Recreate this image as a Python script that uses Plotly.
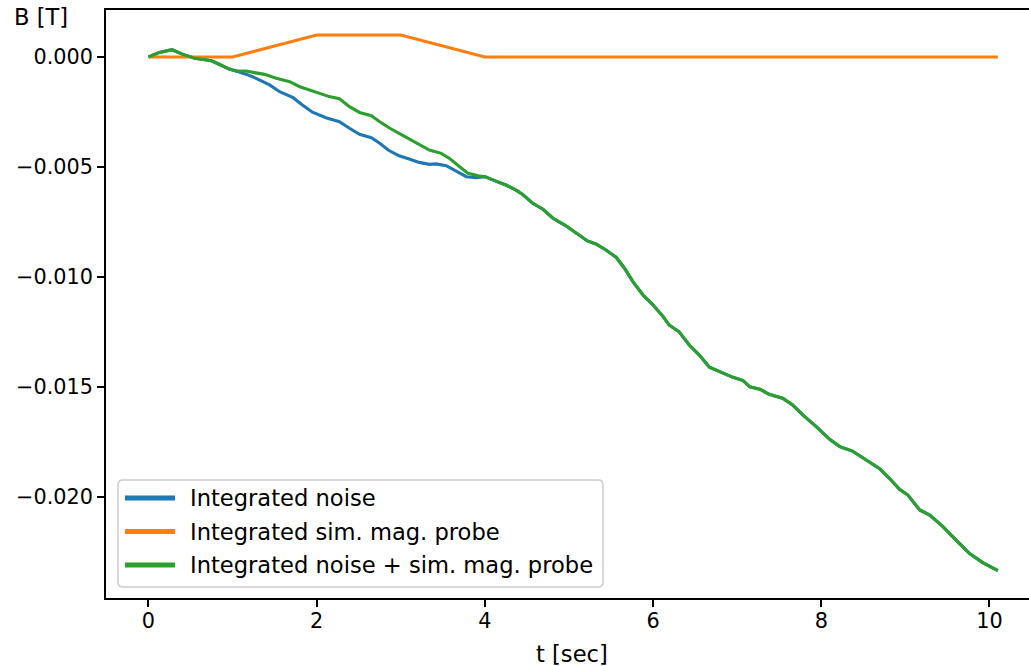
import plotly.graph_objects as go

# ---- data -------------------------------------------------------------
# simulated magnetic probe signal, integrated (piecewise linear)
t_probe = [0.0, 1.0, 2.0, 3.0, 4.0, 10.1]
b_probe = [0.0, 0.0, 0.001, 0.001, 0.0, 0.0]

# integrated noise
t_noise = [0.00, 0.13, 0.28, 0.41, 0.55, 0.69, 0.75, 0.84, 0.96, 1.04,
           1.16, 1.28, 1.44, 1.56, 1.72, 1.83, 1.95, 2.11, 2.27, 2.39,
           2.51, 2.65, 2.75, 2.85, 2.98, 3.10, 3.22, 3.34, 3.42, 3.54,
           3.66, 3.78, 3.90, 4.00, 4.13, 4.25, 4.37, 4.45, 4.57, 4.69,
           4.81, 4.95, 5.09, 5.22, 5.32, 5.44, 5.56, 5.66, 5.76, 5.88,
           6.00, 6.12, 6.19, 6.31, 6.43, 6.55, 6.67, 6.79, 6.95, 7.07,
           7.15, 7.27, 7.38, 7.54, 7.66, 7.78, 7.94, 8.10, 8.22, 8.37,
           8.53, 8.69, 8.81, 8.93, 9.03, 9.17, 9.29, 9.44, 9.60, 9.76,
           9.92, 10.00, 10.10]
b_noise = [0.0, 0.00021, 0.00033, 0.00012, -0.00006, -0.00014, -0.00017, -0.00033, -0.00055, -0.00064,
           -0.00078, -0.00097, -0.00127, -0.00158, -0.00185, -0.00218, -0.00251, -0.00276, -0.00294, -0.00324,
           -0.00351, -0.00367, -0.00392, -0.00423, -0.00449, -0.00464, -0.00479, -0.00488, -0.00486, -0.00494,
           -0.00518, -0.00544, -0.00549, -0.00544, -0.00564, -0.00582, -0.00605, -0.00625, -0.00665, -0.00692,
           -0.00733, -0.00764, -0.00801, -0.00836, -0.00850, -0.00877, -0.00910, -0.00960, -0.01021, -0.01082,
           -0.01127, -0.01180, -0.01218, -0.01249, -0.01309, -0.01355, -0.01410, -0.01430, -0.01456, -0.01471,
           -0.01499, -0.01510, -0.01533, -0.01551, -0.01582, -0.01627, -0.01680, -0.01738, -0.01771, -0.01791,
           -0.01832, -0.01870, -0.01915, -0.01965, -0.01991, -0.02059, -0.02082, -0.02132, -0.02195, -0.02256,
           -0.02298, -0.02314, -0.02335]

# integrated noise + simulated probe
t_total = [0.00, 0.13, 0.28, 0.41, 0.55, 0.69, 0.75, 0.84, 0.96, 1.04,
           1.16, 1.26, 1.38, 1.52, 1.68, 1.80, 1.91, 2.03, 2.15, 2.27,
           2.39, 2.51, 2.65, 2.75, 2.87, 2.98, 3.10, 3.22, 3.34, 3.48,
           3.58, 3.70, 3.80, 3.92, 4.00, 4.13, 4.25, 4.37, 4.45, 4.57,
           4.69, 4.81, 4.95, 5.09, 5.22, 5.32, 5.44, 5.56, 5.66, 5.76,
           5.88, 6.00, 6.12, 6.19, 6.31, 6.43, 6.55, 6.67, 6.79, 6.95,
           7.07, 7.15, 7.27, 7.38, 7.54, 7.66, 7.78, 7.94, 8.10, 8.22,
           8.37, 8.53, 8.69, 8.81, 8.93, 9.03, 9.17, 9.29, 9.44, 9.60,
           9.76, 9.92, 10.00, 10.10]
b_total = [0.0, 0.00021, 0.00033, 0.00012, -0.00006, -0.00014, -0.00017, -0.00033, -0.00055, -0.00064,
           -0.00064, -0.00071, -0.00079, -0.00097, -0.00112, -0.00135, -0.00150, -0.00165, -0.00180, -0.00190,
           -0.00226, -0.00252, -0.00267, -0.00294, -0.00324, -0.00347, -0.00373, -0.00400, -0.00423, -0.00438,
           -0.00461, -0.00499, -0.00529, -0.00540, -0.00544, -0.00564, -0.00582, -0.00605, -0.00625, -0.00665,
           -0.00692, -0.00733, -0.00764, -0.00801, -0.00836, -0.00850, -0.00877, -0.00910, -0.00960, -0.01021,
           -0.01082, -0.01127, -0.01180, -0.01218, -0.01249, -0.01309, -0.01355, -0.01410, -0.01430, -0.01456,
           -0.01471, -0.01499, -0.01510, -0.01533, -0.01551, -0.01582, -0.01627, -0.01680, -0.01738, -0.01771,
           -0.01791, -0.01832, -0.01870, -0.01915, -0.01965, -0.01991, -0.02059, -0.02082, -0.02132, -0.02195,
           -0.02256, -0.02298, -0.02314, -0.02335]

series_names = ["Integrated noise", "Integrated sim. mag. probe",
                "Integrated noise + sim. mag. probe"]
series_colors = ["#1f77b4", "#ff7f0e", "#2ca02c"]

x_ticks = [0, 2, 4, 6, 8, 10]
y_ticks = [0.0, -0.005, -0.010, -0.015, -0.020]

# ---- layout geometry (pixels) -----------------------------------------
W, H = 1029, 666
ML, MT, MR, MB = 106, 10, 0, 68
PW, PH = W - ML - MR, H - MT - MB
FONT = "DejaVu Sans"
FS_TICK = 20.8   # tick labels
FS_TEXT = 22.6   # axis labels and legend


def px(x):
    """pixel column -> paper x"""
    return (x - ML) / PW


def py(y):
    """pixel row -> paper y"""
    return (H - MB - y) / PH


fig = go.Figure()
for t, b, name, color in zip([t_noise, t_probe, t_total],
                             [b_noise, b_probe, b_total],
                             series_names, series_colors):
    fig.add_trace(go.Scatter(x=t, y=b, mode="lines", name=name,
                             line=dict(color=color, width=3.1),
                             showlegend=False, hoverinfo="skip"))

axis_common = dict(
    showgrid=False, zeroline=False, showline=True, linecolor="black",
    linewidth=1.6, ticks="outside", ticklen=7, tickwidth=1.6,
    tickcolor="black", tickfont=dict(family=FONT, size=FS_TICK, color="black"),
)
fig.update_xaxes(range=[-0.505, 10.47], tickvals=x_ticks, mirror=True,
                 ticklabelstandoff=-4, **axis_common)
fig.update_yaxes(range=[-0.02459, 0.002136], tickvals=y_ticks,
                 tickformat=".3f", **axis_common)

# legend frame with rounded corners
L, R, T, B, r = 118, 603, 480, 587, 5
path = (f"M {px(L + r)} {py(T)} L {px(R - r)} {py(T)} "
        f"Q {px(R)} {py(T)} {px(R)} {py(T + r)} "
        f"L {px(R)} {py(B - r)} Q {px(R)} {py(B)} {px(R - r)} {py(B)} "
        f"L {px(L + r)} {py(B)} Q {px(L)} {py(B)} {px(L)} {py(B - r)} "
        f"L {px(L)} {py(T + r)} Q {px(L)} {py(T)} {px(L + r)} {py(T)} Z")
shapes = [dict(type="path", xref="paper", yref="paper", path=path,
               line=dict(color="#cccccc", width=1.5),
               fillcolor="rgba(255,255,255,0.8)")]
annotations = []
rows = [498, 531.5, 565]
for row, name, color in zip(rows, series_names, series_colors):
    shapes.append(dict(type="line", xref="paper", yref="paper",
                       x0=px(125), x1=px(175), y0=py(row), y1=py(row),
                       line=dict(color=color, width=5)))
    annotations.append(dict(xref="paper", yref="paper", x=px(187.5), y=py(row),
                            xanchor="left", yanchor="middle", text=name,
                            showarrow=False,
                            font=dict(family=FONT, size=FS_TEXT, color="black")))

# axis titles
annotations.append(dict(xref="paper", yref="paper", x=px(41.3), y=py(17),
                        xanchor="center", yanchor="middle", text="B [T]",
                        showarrow=False,
                        font=dict(family=FONT, size=FS_TEXT, color="black")))
annotations.append(dict(xref="paper", yref="paper", x=px(572.3), y=py(654),
                        xanchor="center", yanchor="middle", text="t [sec]",
                        showarrow=False,
                        font=dict(family=FONT, size=FS_TEXT, color="black")))

fig.update_layout(
    width=W, height=H, margin=dict(l=ML, r=MR, t=MT, b=MB, pad=0),
    paper_bgcolor="white", plot_bgcolor="white",
    shapes=shapes, annotations=annotations, showlegend=False,
)

fig.write_html("out.html")
